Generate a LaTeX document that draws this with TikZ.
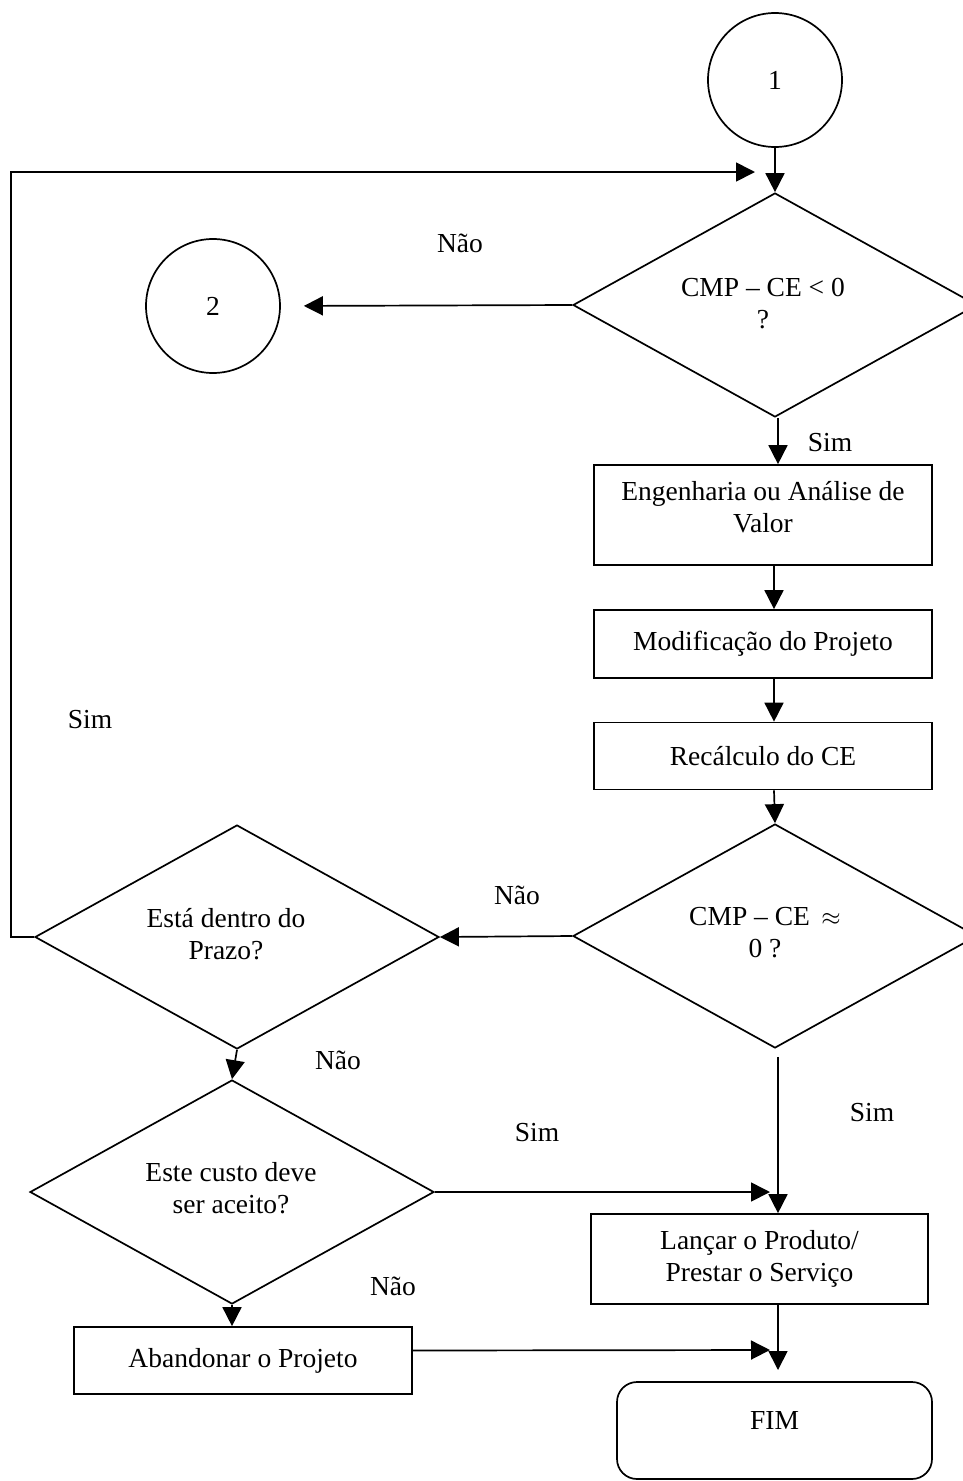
\documentclass[tikz,border=0pt]{standalone}
\usepackage{fontspec}
\setmainfont{Liberation Serif}
\usetikzlibrary{shapes.geometric,arrows.meta,calc}
\begin{document}
\begin{tikzpicture}[x=1pt,y=-1pt,
  every node/.style={font=\fontsize{27.5}{32}\selectfont},
  line/.style={line width=1.7pt},
  arr/.style={line, -{Triangle[length=19pt,width=19pt]}},
  conn/.style={draw, line width=1.7pt, circle, minimum size=134pt, inner sep=0pt},
  procbox/.style={draw, line width=1.7pt, rectangle, inner sep=0pt, align=center},
  decision/.style={draw, line width=1.7pt, diamond, aspect=1.8, inner sep=0pt,
    minimum width=404pt, minimum height=224pt},
  txt/.style={inner sep=0pt, align=center},
  lbl/.style={inner sep=0pt}]
\useasboundingbox (0,0) rectangle (963,1481);
\clip (0,0) rectangle (963,1481);

% connectors (circles)
\node[conn] (c1) at (775,80) {1};
\node[conn] (c2) at (213,306) {2};

% decisions (outline) and their questions
\node[decision] (d1) at (775,305) {};
\node[txt] (d1t) at (763,304) {CMP -- CE < 0\\?};
\node[decision] (d2) at (775,936) {};
\node[txt] (d2t) at (765,933) {CMP -- CE\, $\approx$\\0 ?};
\node[decision] (dp) at (237,937) {};
\node[txt] (dpt) at (226,934) {Está dentro do\\Prazo?};
\node[decision] (de) at (232,1192) {};
\node[txt] (det) at (231,1188) {Este custo deve\\ser aceito?};

% process boxes
\node[procbox, minimum width=338pt, minimum height=100pt] (b1) at (763,515) {};
\node[txt] (b1t) at (763,507) {Engenharia ou Análise de\\Valor};
\node[procbox, minimum width=338pt, minimum height=68pt] (b2) at (763,644)
  {Modificação do Projeto};
\node[procbox, minimum width=338pt, minimum height=67pt] (b3) at (763,756)
  {Recálculo do CE};
\node[procbox, minimum width=337pt, minimum height=90pt] (bl) at (759.5,1259)
  {Lançar o Produto/\\Prestar o Serviço};
\node[procbox, minimum width=338pt, minimum height=67pt] (ba) at (243,1360.5)
  {Abandonar o Projeto};
\node[procbox, rounded corners=20pt, minimum width=315pt, minimum height=97pt]
  (fim) at (774.5,1430.5) {\raisebox{20pt}{FIM}};

% free ends of connectors
\coordinate (loopend) at (755,172);
\coordinate (joinA) at (770,1192);
\coordinate (joinB) at (770,1350);
\coordinate (fimin) at (778,1370);

% flow lines
\draw[arr] (c1.south) -- (d1.north);
\draw[arr] (dp.west) -- (11,937) -- (11,172) -- (loopend);
\draw[arr, shorten >=23pt] (d1.west) -- (c2.east);
\draw[arr] ([xshift=3pt]d1.south) -- ([xshift=3pt]d1.south |- b1.north);
\draw[arr] (b1.south -| 774,0) -- (b2.north -| 774,0);
\draw[arr] (b2.south -| 774,0) -- (b3.north -| 774,0);
\draw[arr] (b3.south -| 774,0) -- (d2.north);
\draw[arr] (d2.west) -- (dp.east);
\draw[arr] ([xshift=3pt,yshift=-8pt]d2.south) -- (bl.north -| 778,0);
\draw[arr] (dp.south) -- (de.north);
\draw[arr] (de.east) -- (joinA);
\draw[arr] (de.south) -- (ba.north -| de.south);
\draw[arr] ([yshift=10pt]ba.east) -- (joinB);
\draw[arr] (bl.south -| fimin) -- (fimin);

% branch labels
\node[lbl] (n1) at (460,243) {Não};
\node[lbl] (s1) at (830,443) {Sim};
\node[lbl] (s2) at (90,720) {Sim};
\node[lbl] (n2) at (517,895) {Não};
\node[lbl] (n3) at (338,1060) {Não};
\node[lbl] (s3) at (872,1113) {Sim};
\node[lbl] (s4) at (537,1133) {Sim};
\node[lbl] (n4) at (393,1286) {Não};
\end{tikzpicture}
\end{document}
